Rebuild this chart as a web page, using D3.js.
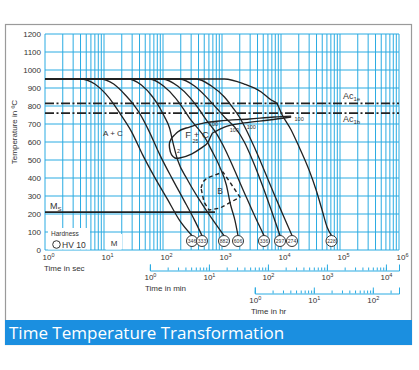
<!DOCTYPE html>
<html><head><meta charset="utf-8">
<script src="https://cdn.jsdelivr.net/npm/d3@7"></script>
<style>
body{margin:0;background:#fff;}
svg{display:block;font-family:"Liberation Sans",Arial,sans-serif;}
</style></head><body>
<svg id="c" width="419" height="370"></svg>
<script>
// ---------- data ----------
const tempTicks = [0,100,200,300,400,500,600,700,800,900,1000,1100,1200];
const secTicks = [1,10,100,1e3,1e4,1e5,1e6];
const minTicks = [1,10,100,1e3,1e4];
const hrTicks = [1,10,100];

// cooling curves: [time in s, temperature in °C]
const curve346 = [[1,950],[3.9,950],[7,922],[10.7,867],[14.6,811],[18.5,760],[29.5,655],[45,530],[72,405],[120,280],[191,165],[310,80]];
const curve333 = [[1,950],[8.5,950],[14.6,922],[23,861],[32,806],[40,760],[59,655],[88,530],[140,402],[223,280],[342,166],[458,80]];
const curve882 = [[1,950],[25,950],[43,917],[67,850],[88,790],[106,740],[129,678],[151,583],[177,500],[261,389],[415,278],[662,178],[1081,80]];
const curve606 = [[1,950],[59,950],[102,911],[163,844],[223,783],[281,733],[384,678],[505,628],[662,556],[904,467],[1186,361],[1400,250],[1650,167],[1868,80]];
const curve336 = [[1,950],[98,950],[177,911],[292,844],[415,778],[545,722],[774,656],[1141,556],[1683,433],[2483,306],[3524,194],[5150,80]];
const curve297 = [[1,950],[191,950],[342,911],[566,844],[804,789],[1141,733],[1683,678],[2388,600],[3390,489],[4810,361],[6830,222],[9620,80]];
const curve274 = [[1,950],[370,950],[662,911],[1099,850],[1500,794],[1968,739],[2582,667],[3524,572],[5000,456],[7380,322],[10470,206],[15360,80]];
const curve228 = [[1,950],[1099,950],[2388,922],[4630,878],[6830,833],[8630,811],[10070,761],[14860,667],[20300,572],[29900,444],[39400,333],[49700,222],[60300,128],[71800,80]];

const hardnessLabels = ["346","333","882","606","336","297","274","228"];
const hardnessTimes = [310,458,1081,1868,5150,9620,15360,71800];
const hardnessTemp = 50;

const ac1e = 815, ac1b = 760;
const msTemp = 210, msEndTime = 760;

// F + C region boundaries
const fcStart = [[140,622],[177,656],[281,683],[505,706],[904,717],[2904,728],[7680,739],[14860,744]];
const fcEnd = [[689,650],[1099,683],[2388,706],[6320,722],[14860,739]];
const fcOutline = [[140,622],[129,595],[129,567],[140,528],[160,511],[191,511],[304,533],[449,567],[566,594],[637,628],[689,650]];
// B region (dashed)
const bRegion = [[441,344],[476,378],[557,400],[1040,433],[2018,294],[925,233],[602,222],[495,267],[441,344]];

// percentage annotations [time, temp, text]
const pctNotes = [[184,539,"2"],[355,594,"25"],[716,689,"100"],[1620,656,"100"],[3140,672,"100"],[20300,717,"100"]];

// ---------- drawing ----------
const BLUE = "#2aabe2", INK = "#222", TXT = "#333";
const x = d3.scaleLog().domain([1,1e6]).range([45,399]);
const y = d3.scaleLinear().domain([0,1200]).range([250,34]);
const svg = d3.select("#c");

svg.append("rect").attr("x",5.5).attr("y",24.5).attr("width",406).attr("height",320)
  .attr("fill","#fff").attr("stroke","#9a9a9a").attr("stroke-width",1.2);

// grid
const grid = svg.append("g");
grid.selectAll("line.v").data(x.ticks()).join("line").attr("class","v")
  .attr("x1",d=>x(d)).attr("x2",d=>x(d)).attr("y1",y(1200)).attr("y2",y(0))
  .attr("stroke",BLUE).attr("stroke-width",1);
grid.selectAll("line.h").data(tempTicks).join("line").attr("class","h")
  .attr("x1",x(1)).attr("x2",x(1e6)).attr("y1",d=>y(d)).attr("y2",d=>y(d))
  .attr("stroke",BLUE).attr("stroke-width",1);

// y axis labels
const yAx = svg.append("g").attr("transform",`translate(${x(1)},0)`)
  .call(d3.axisLeft(y).tickValues(tempTicks).tickSize(0).tickPadding(4).tickFormat(d3.format("d")));
yAx.select(".domain").remove();
yAx.attr("font-family",null).attr("font-size",8);
yAx.selectAll("text").attr("fill",TXT);

function supLabels(sel){
  sel.selectAll(".tick text").each(function(d){
    const t = d3.select(this); t.text(null);
    t.append("tspan").text("10");
    t.append("tspan").attr("dy",-3).attr("font-size",5.5).text(Math.round(Math.log10(d)));
  }).attr("fill",TXT);
}

// seconds axis labels
const xAx = svg.append("g").attr("transform",`translate(3,${y(0)})`)
  .call(d3.axisBottom(x).tickValues(secTicks).tickSize(0).tickPadding(4));
xAx.select(".domain").remove();
xAx.attr("font-family",null).attr("font-size",8);
supLabels(xAx);
svg.append("text").attr("x",44).attr("y",271).attr("font-size",8).attr("fill",TXT).text("Time in sec");

// minutes axis
const xMin = d3.scaleLog().domain([1,1e6/60]).range([x(60),x(1e6)]);
const minG = svg.append("g").attr("transform","translate(0,270.5)");
minG.append("g").call(d3.axisBottom(xMin).tickValues(xMin.ticks()).tickSize(-3).tickSizeOuter(-6).tickFormat(""));
const minLab = minG.append("g").call(d3.axisBottom(xMin).tickValues(minTicks).tickSize(-6).tickSizeOuter(0).tickPadding(4));
minLab.select(".domain").remove();
minLab.attr("font-family",null).attr("font-size",8);
supLabels(minLab);
minG.selectAll("path,line").attr("stroke",BLUE);
svg.append("text").attr("x",145).attr("y",291).attr("font-size",8).attr("fill",TXT).text("Time in min");

// hours axis
const xHr = d3.scaleLog().domain([1,1e6/3600]).range([x(3600),x(1e6)]);
const hrG = svg.append("g").attr("transform","translate(0,293.5)");
hrG.append("g").call(d3.axisBottom(xHr).tickValues(xHr.ticks()).tickSize(-3).tickSizeOuter(-6).tickFormat(""));
const hrLab = hrG.append("g").call(d3.axisBottom(xHr).tickValues(hrTicks).tickSize(-6).tickSizeOuter(0).tickPadding(4));
hrLab.select(".domain").remove();
hrLab.attr("font-family",null).attr("font-size",8);
supLabels(hrLab);
hrG.selectAll("path,line").attr("stroke",BLUE);
svg.append("text").attr("x",251).attr("y",314).attr("font-size",8).attr("fill",TXT).text("Time in hr");

// y title
svg.append("text").attr("transform",`translate(17,${(y(0)+y(1200))/2-10}) rotate(-90)`)
  .attr("text-anchor","middle").attr("font-size",8).attr("fill",TXT).text("Temperature in ºC");

// Ac lines
[ac1e, ac1b].forEach(v=>{
  svg.append("line").attr("x1",x(1)).attr("x2",x(1e6)).attr("y1",y(v)).attr("y2",y(v))
    .attr("stroke",INK).attr("stroke-width",1.8).attr("stroke-dasharray","9,2.5,2,2.5");
});
function acLabel(yy, sub){
  const t = svg.append("text").attr("x",343).attr("y",yy).attr("font-size",9).attr("fill",TXT);
  t.append("tspan").text("Ac");
  t.append("tspan").attr("dy",2).attr("font-size",6).text(sub);
}
acLabel(y(ac1e)-4,"1e");
acLabel(y(ac1b)+9,"1b");

// Ms line
svg.append("line").attr("x1",x(1)).attr("x2",x(msEndTime)).attr("y1",y(msTemp)).attr("y2",y(msTemp))
  .attr("stroke",INK).attr("stroke-width",1.8);
const msT = svg.append("text").attr("x",50).attr("y",y(msTemp)-3).attr("font-size",9).attr("fill",TXT);
msT.append("tspan").text("M");
msT.append("tspan").attr("dy",2).attr("font-size",6).text("S");

// white boxes for labels
svg.append("rect").attr("x",48).attr("y",228).attr("width",42).attr("height",21.5).attr("fill","#fff");
svg.append("rect").attr("x",106).attr("y",234).attr("width",16).attr("height",15.5).attr("fill","#fff");

// regions
const lineM = d3.line().x(d=>x(d[0])).y(d=>y(d[1])).curve(d3.curveMonotoneX);
[fcStart, fcEnd].forEach(a=>{
  svg.append("path").attr("d",lineM(a)).attr("fill","none").attr("stroke",INK).attr("stroke-width",1.4);
});
const lineB = d3.line().x(d=>x(d[0])).y(d=>y(d[1])).curve(d3.curveCatmullRom.alpha(0.5));
svg.append("path").attr("d",lineB(fcOutline)).attr("fill","none").attr("stroke",INK).attr("stroke-width",1.4);
const lineL = d3.line().x(d=>x(d[0])).y(d=>y(d[1]));
svg.append("path").attr("d",lineL(bRegion)).attr("fill","none").attr("stroke",INK)
  .attr("stroke-width",1.4).attr("stroke-dasharray","4,3").attr("stroke-linejoin","round");

// cooling curves
[curve346,curve333,curve882,curve606,curve336,curve297,curve274,curve228].forEach(c=>{
  svg.append("path").attr("d",lineM(c)).attr("fill","none").attr("stroke",INK).attr("stroke-width",1.3);
});

// hardness circles
const hg = svg.selectAll("g.hv").data(hardnessLabels).join("g").attr("class","hv")
  .attr("transform",(d,i)=>`translate(${x(hardnessTimes[i])},${y(hardnessTemp)})`);
hg.append("circle").attr("r",5.5).attr("fill","#fff").attr("stroke","#333").attr("stroke-width",1);
hg.append("text").attr("text-anchor","middle").attr("dy",1.8).attr("font-size",5).attr("fill",TXT).text(d=>d);

// percent notes
svg.selectAll("text.pct").data(pctNotes).join("text").attr("class","pct")
  .attr("x",d=>x(d[0])).attr("y",d=>y(d[1])).attr("text-anchor","middle")
  .attr("font-size",5.5).attr("fill",TXT).text(d=>d[2]);

// region labels
svg.append("text").attr("x",x(14.2)).attr("y",y(650)+3).attr("text-anchor","middle").attr("font-size",8).attr("fill",TXT).text("A + C");
svg.append("text").attr("x",x(377)).attr("y",y(644)+3.5).attr("text-anchor","middle").attr("font-size",9.5).attr("fill",TXT).text("F + C");
svg.append("text").attr("x",x(925)).attr("y",y(328)+3).attr("text-anchor","middle").attr("font-size",8.5).attr("fill",TXT).text("B");
svg.append("text").attr("x",x(14.8)).attr("y",y(39)+3).attr("text-anchor","middle").attr("font-size",8).attr("fill",TXT).text("M");

// hardness legend
svg.append("text").attr("x",51).attr("y",236).attr("font-size",6.5).attr("fill",TXT).text("Hardness");
svg.append("circle").attr("cx",56.5).attr("cy",244.5).attr("r",3.8).attr("fill","#fff").attr("stroke","#333").attr("stroke-width",1);
svg.append("text").attr("x",62).attr("y",248).attr("font-size",8.5).attr("fill",TXT).text("HV 10");

// title bar
svg.append("rect").attr("x",5).attr("y",320).attr("width",407).attr("height",25).attr("fill","#1b8fe0");
svg.append("text").attr("x",9).attr("y",339).attr("font-family","'Open Sans',sans-serif").attr("font-size",17)
  .attr("fill","#fff").text("Time Temperature Transformation");
</script>
</body></html>
